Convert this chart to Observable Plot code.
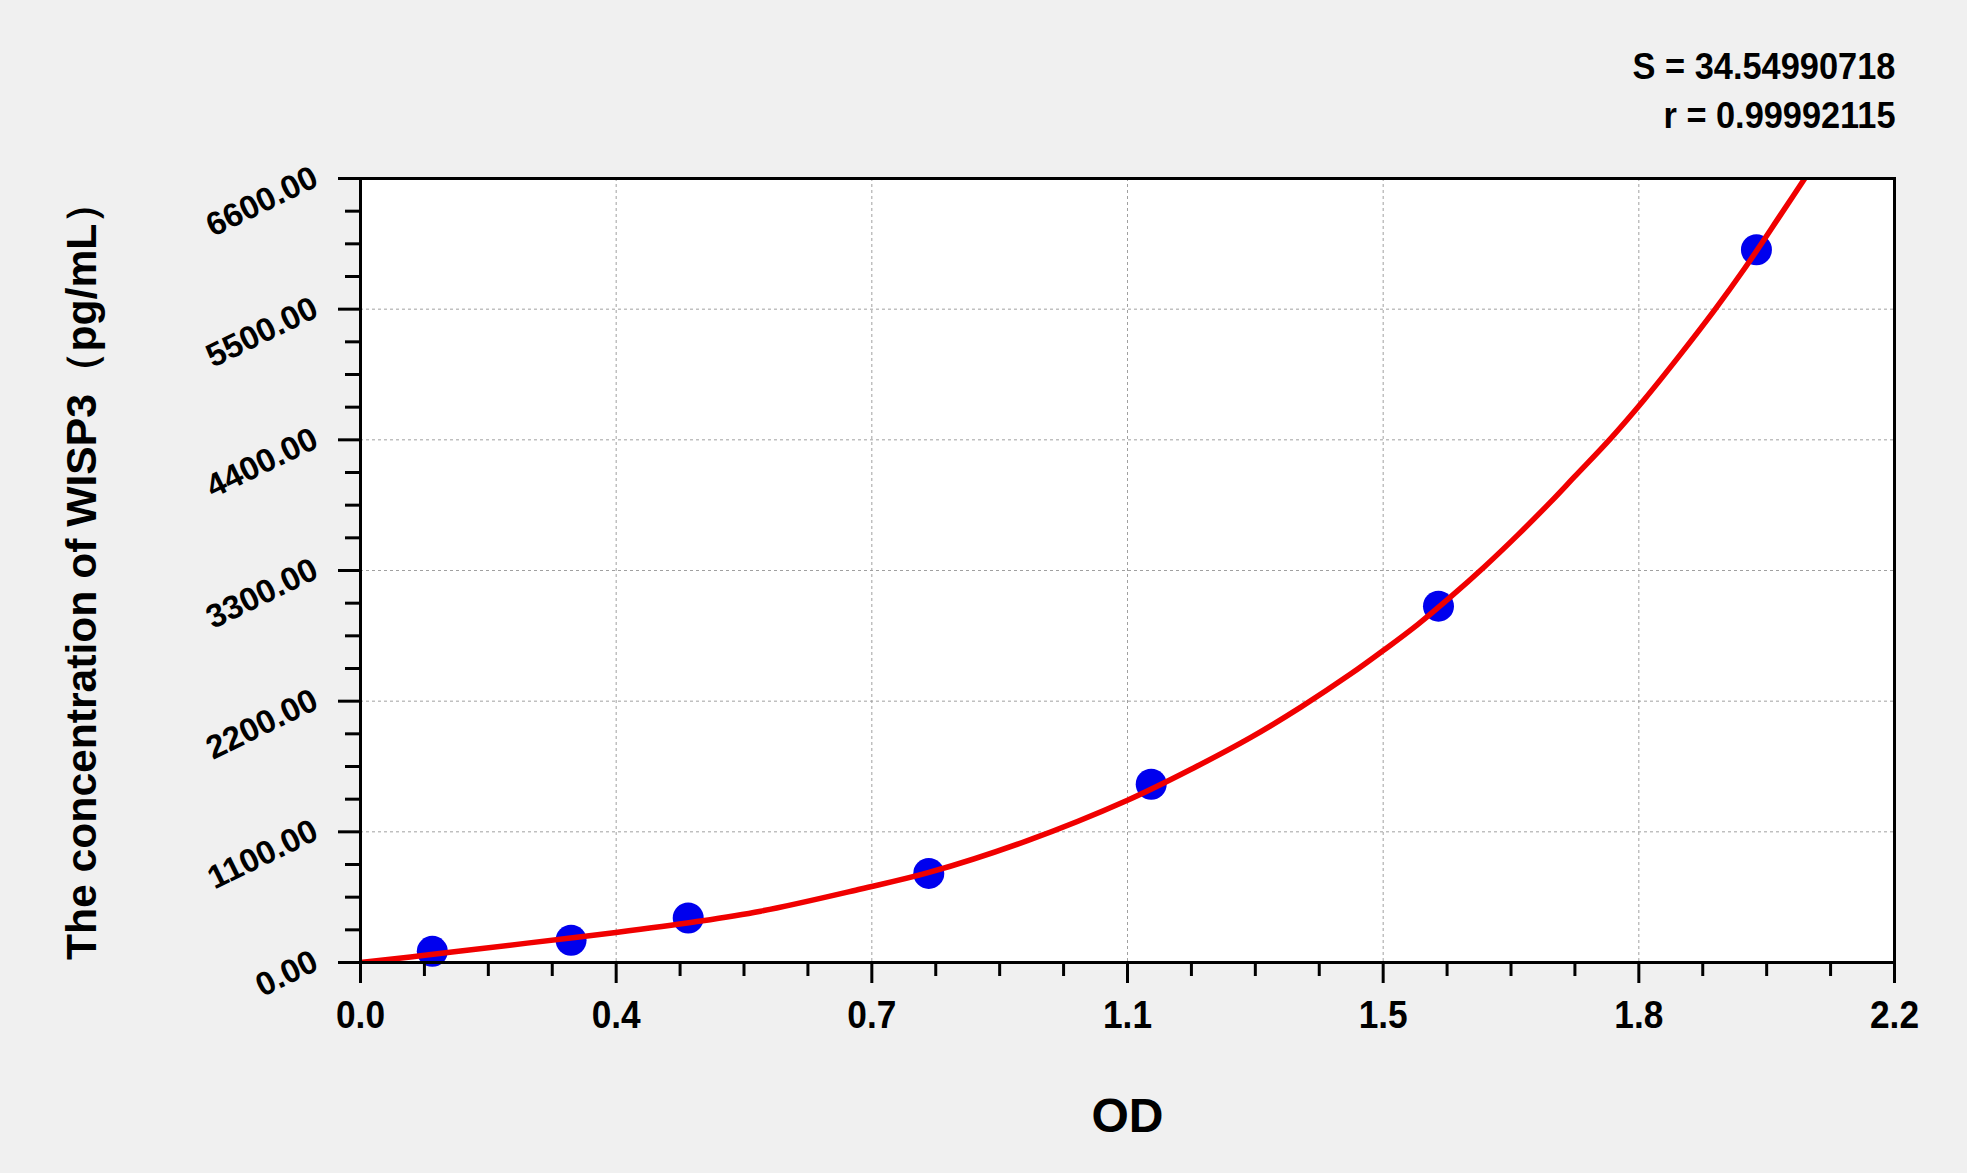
<!DOCTYPE html>
<html>
<head>
<meta charset="utf-8">
<script src="https://cdn.jsdelivr.net/npm/d3@7"></script>
<script src="https://cdn.jsdelivr.net/npm/@observablehq/plot@0.6"></script>
<style>
  html, body { margin: 0; padding: 0; background: #f0f0f0; }
</style>
</head>
<body>
<div id="chart"></div>
<script>
// ---- data ----
const pointOD   = [0.103, 0.302, 0.470, 0.815, 1.134, 1.546, 2.002];
const pointConc = [93.75, 187.5, 375, 750, 1500, 3000, 6000];

const curveOD   = [0, 0.0717, 0.1435, 0.2392, 0.3663, 0.4782, 0.5739, 0.7174, 0.8154, 0.9565, 1.1000, 1.1956, 1.2769, 1.3486, 1.4204, 1.4667, 1.5161, 1.5638, 1.6116, 1.6595, 1.7073, 1.7408, 1.7934, 1.8412, 1.8891, 1.9416, 1.9847, 2.0373, 2.0803];
const curveConc = [0, 47, 96, 163, 253, 341, 432, 619, 758, 1026, 1366, 1640, 1895, 2150, 2430, 2626, 2845, 3080, 3330, 3598, 3880, 4088, 4415, 4740, 5090, 5490, 5840, 6300, 6680];

const xTicks = [0, 2.2 / 6, 2 * 2.2 / 6, 1.1, 4 * 2.2 / 6, 5 * 2.2 / 6, 2.2];
const xTickLabels = ["0.0", "0.4", "0.7", "1.1", "1.5", "1.8", "2.2"];
const yTicks = [0, 1100, 2200, 3300, 4400, 5500, 6600];
const yTickLabels = ["0.00", "1100.00", "2200.00", "3300.00", "4400.00", "5500.00", "6600.00"];

const statLines = ["S = 34.54990718", "r = 0.99992115"];
const xTitle = "OD";
const yTitle = "The concentration of WISP3（pg/mL）";

// minor tick positions (4 subdivisions per major interval)
const xMinor = d3.range(1, 24).filter(i => i % 4 !== 0).map(i => i * 2.2 / 24);
const yMinor = d3.range(1, 24).filter(i => i % 4 !== 0).map(i => i * 275);

const FONT = '"Liberation Sans", Arial, sans-serif';
const W = 1967, H = 1173;

const points = pointOD.map((x, i) => ({x, y: pointConc[i]}));
const curve = curveOD.map((x, i) => ({x, y: curveConc[i]}));

const gridStyle = {stroke: "#a0a0a0", strokeDasharray: "3,3", strokeWidth: 1};
const tickStyle = {stroke: "black", strokeWidth: 3, tickFormat: () => "", label: null};

const plot = Plot.plot({
  width: W,
  height: H,
  marginLeft: 360,
  marginRight: 73,
  marginTop: 178,
  marginBottom: 211,
  style: {background: "#f0f0f0", fontFamily: FONT, overflow: "visible"},
  x: {domain: [0, 2.2], label: null},
  y: {domain: [0, 6600], label: null},
  marks: [
    Plot.frame({fill: "white", stroke: null}),
    Plot.ruleX(xTicks.slice(1, -1), gridStyle),
    Plot.ruleY(yTicks.slice(1, -1), gridStyle),
    Plot.dot(points, {x: "x", y: "y", r: 15.5, fill: "#0000ee", stroke: null}),
    Plot.line(curve, {x: "x", y: "y", stroke: "#f00000", strokeWidth: 5.5, curve: "catmull-rom", clip: true}),
    Plot.frame({stroke: "black", strokeWidth: 3}),
    Plot.axisX(xTicks, {...tickStyle, tickSize: 21}),
    Plot.axisX(xMinor, {...tickStyle, tickSize: 14}),
    Plot.axisY(yTicks, {...tickStyle, tickSize: 22}),
    Plot.axisY(yMinor, {...tickStyle, tickSize: 15}),
    Plot.text(xTicks, {
      x: d => d, text: (d, i) => xTickLabels[i],
      frameAnchor: "bottom", textAnchor: "middle", lineAnchor: "top", dy: 39,
      fontSize: 38, fontWeight: "bold", fill: "black", fontFamily: FONT, className: "xlab"
    }),
    Plot.text(yTicks, {
      y: d => d, text: (d, i) => yTickLabels[i],
      frameAnchor: "left", textAnchor: "end", lineAnchor: "middle",
      rotate: -26, dx: -45, dy: -3,
      fontSize: 33, fontWeight: "bold", fill: "black", fontFamily: FONT
    }),
    Plot.text([xTitle], {
      text: d => d, frameAnchor: "bottom", textAnchor: "middle", lineAnchor: "bottom", dy: 169,
      fontSize: 48, fontWeight: "bold", fill: "black", fontFamily: FONT
    }),
    Plot.text([yTitle], {
      text: d => d, frameAnchor: "left", textAnchor: "middle", rotate: -90, lineAnchor: "bottom",
      dx: -265, dy: 0,
      fontSize: 42, fontWeight: "bold", fill: "black", fontFamily: FONT, className: "ytitle"
    }),
    Plot.text([statLines[0]], {
      text: d => d, frameAnchor: "top-right", textAnchor: "end", lineAnchor: "bottom",
      dx: 1, dy: -100,
      fontSize: 36, fontWeight: "bold", fill: "black", fontFamily: FONT, className: "stat0"
    }),
    Plot.text([statLines[1]], {
      text: d => d, frameAnchor: "top-right", textAnchor: "end", lineAnchor: "bottom",
      dx: 1, dy: -51,
      fontSize: 36, fontWeight: "bold", fill: "black", fontFamily: FONT, className: "stat1"
    })
  ]
});

function fit(sel, len) {
  plot.querySelectorAll(sel).forEach(t => {
    t.setAttribute("textLength", len);
    t.setAttribute("lengthAdjust", "spacingAndGlyphs");
  });
}
fit(".ytitle text", 779);
fit(".stat0 text", 263);
fit(".stat1 text", 232);
fit(".xlab text", 49);

document.getElementById("chart").appendChild(plot);
</script>
</body>
</html>
